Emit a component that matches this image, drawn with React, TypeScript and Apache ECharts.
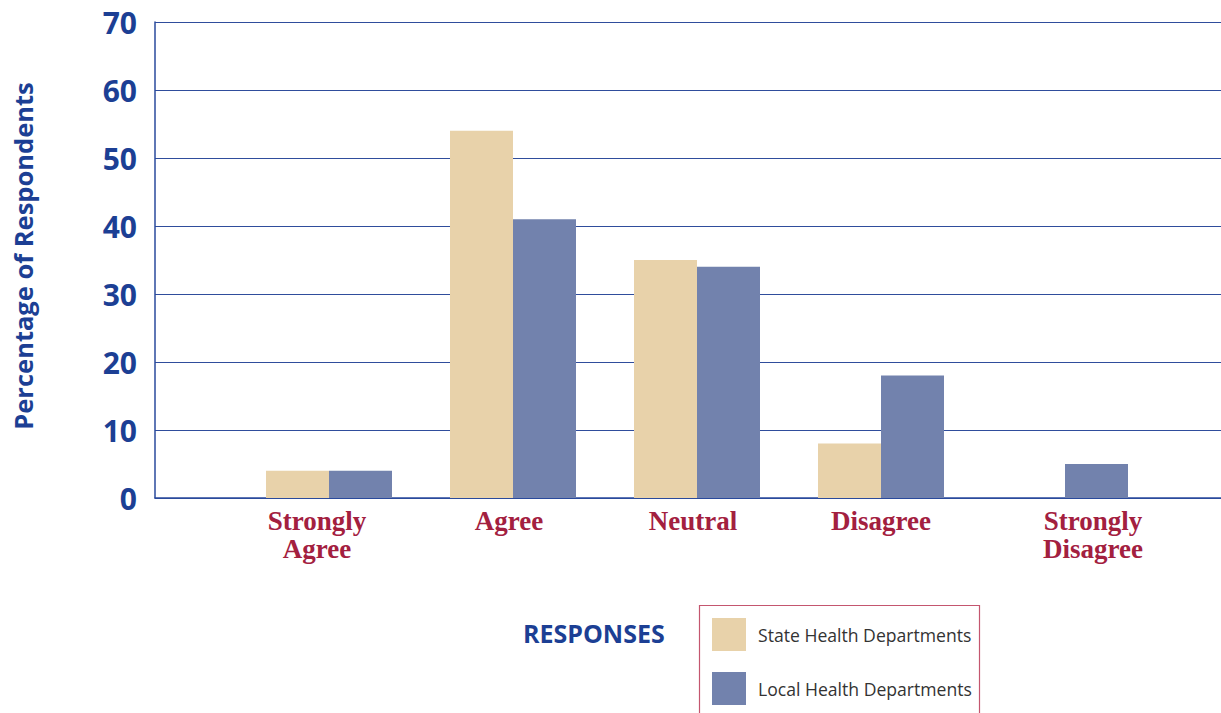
import React, { useEffect, useRef } from "react";
import * as echarts from "echarts";

const categories = ["Strongly\nAgree", "Agree", "Neutral", "Disagree", "Strongly\nDisagree"];
const stateValues = [4, 54, 35, 8, 0];
const localValues = [4, 41, 34, 18, 5];
const yTicks = [0, 10, 20, 30, 40, 50, 60, 70];
const seriesNames = ["State Health Departments", "Local Health Departments"];

const BLUE = "#1c3f94";
const RED = "#a3203f";
const STATE = "#e8d2aa";
const LOCAL = "#7282ad";

export default function App() {
  const ref = useRef<HTMLDivElement>(null);
  useEffect(() => {
    if (!ref.current) return;
    const chart = echarts.init(ref.current, null, { renderer: "svg" });
    const labelPads: Record<string, number[]> = {
      "Strongly\nAgree": [0, 24, 0, 0],
      "Strongly\nDisagree": [0, 0, 0, 56],
      Agree: [0, 8, 0, 0],
      Neutral: [0, 8, 0, 0],
    };
    chart.setOption({
      animation: false,
      backgroundColor: "#ffffff",
      grid: [
        { left: 155, right: 0, top: 22, bottom: 215 },
        { left: 237, right: 64, top: 22, bottom: 215 },
      ],
      xAxis: [
        {
          gridIndex: 0,
          type: "value",
          min: 0,
          max: 1,
          axisLine: { show: true, onZero: false, lineStyle: { color: "#2a4a9c", width: 1.5 } },
          axisTick: { show: false },
          axisLabel: { show: false },
          splitLine: { show: false },
        },
        {
          gridIndex: 1,
          type: "category",
          data: categories.map((c) => ({
            value: c,
            textStyle: labelPads[c] ? { padding: labelPads[c] } : {},
          })),
          axisLine: { show: false },
          axisTick: { show: false },
          axisLabel: {
            interval: 0,
            margin: 9,
            color: RED,
            fontFamily: "Liberation Serif",
            fontWeight: "bold",
            fontSize: 27,
            lineHeight: 28,
          },
        },
      ],
      yAxis: [
        {
          gridIndex: 0,
          type: "value",
          min: yTicks[0],
          max: yTicks[yTicks.length - 1],
          interval: 10,
          axisLine: { show: true, lineStyle: { color: "#2a4a9c", width: 1.5 } },
          axisTick: { show: false },
          axisLabel: {
            margin: 18,
            color: BLUE,
            fontFamily: "Open Sans",
            fontWeight: "bold",
            fontSize: 30,
          },
          splitLine: { show: true, lineStyle: { color: "#2f4d9c", width: 1.2 } },
        },
        {
          gridIndex: 1,
          type: "value",
          min: yTicks[0],
          max: yTicks[yTicks.length - 1],
          interval: 10,
          axisLine: { show: false },
          axisTick: { show: false },
          axisLabel: { show: false },
          splitLine: { show: false },
        },
      ],
      legend: {
        orient: "vertical",
        left: 712,
        top: 618,
        padding: 0,
        itemWidth: 34,
        itemHeight: 33,
        itemGap: 21,
        icon: "rect",
        data: seriesNames,
        textStyle: {
          color: "#333333",
          fontFamily: "Open Sans",
          fontSize: 17.6,
          padding: [0, 0, 0, 7],
        },
      },
      graphic: [
        {
          type: "rect",
          shape: { x: 699.5, y: 605.5, width: 280, height: 130 },
          style: { fill: "none", stroke: "#c4566f", lineWidth: 1.2 },
        },
        {
          type: "text",
          x: 523,
          y: 633,
          style: {
            text: "RESPONSES",
            fill: BLUE,
            fontFamily: "Open Sans",
            fontWeight: "bold",
            fontSize: 25,
            textAlign: "left",
            textVerticalAlign: "middle",
          },
        },
        {
          type: "text",
          x: 23,
          y: 256,
          rotation: Math.PI / 2,
          style: {
            text: "Percentage of Respondents",
            fill: BLUE,
            fontFamily: "Open Sans",
            fontWeight: "bold",
            fontSize: 25.5,
            textAlign: "center",
            textVerticalAlign: "middle",
          },
        },
      ],
      series: [
        {
          name: seriesNames[0],
          type: "bar",
          xAxisIndex: 1,
          yAxisIndex: 1,
          data: stateValues,
          barWidth: 63,
          barGap: "0%",
          itemStyle: { color: STATE },
        },
        {
          name: seriesNames[1],
          type: "bar",
          xAxisIndex: 1,
          yAxisIndex: 1,
          data: localValues,
          barWidth: 63,
          barGap: "0%",
          itemStyle: { color: LOCAL },
        },
      ],
    });
    return () => chart.dispose();
  }, []);
  return (
    <div
      ref={ref}
      style={{ position: "fixed", left: 0, top: 0, width: 1221, height: 713 }}
    />
  );
}
